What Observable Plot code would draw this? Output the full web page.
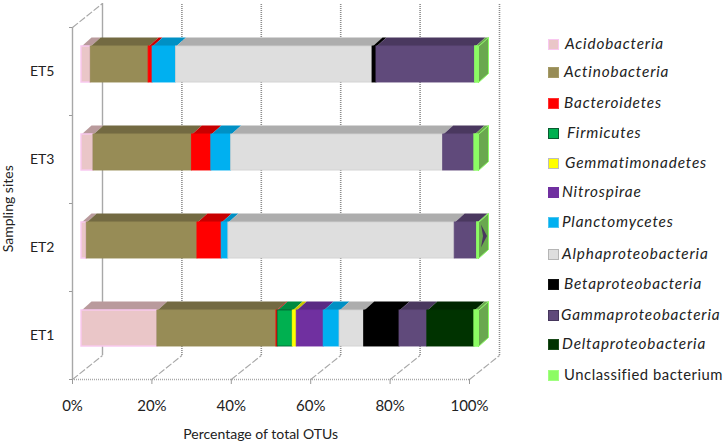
<!DOCTYPE html>
<html>
<head>
<meta charset="utf-8">
<script src="https://cdn.jsdelivr.net/npm/d3@7"></script>
<script src="https://cdn.jsdelivr.net/npm/@observablehq/plot@0.6"></script>
<style>
html,body{margin:0;padding:0;background:#fff;overflow:hidden}
#wrap{position:relative;width:723px;height:443px;font-family:Lato,"Open Sans",sans-serif}
#wrap svg{position:absolute;left:0;top:0}
#legend{position:absolute;left:0;top:0;width:723px;height:443px;pointer-events:none}
.item{position:absolute;display:flex;align-items:center;height:20px;left:548px;color:#222;white-space:nowrap}
.sw{box-sizing:border-box;width:11px;height:11px;flex:none;border-width:1.5px;border-style:solid}
.lb{position:absolute;top:-1px;line-height:20px;font-size:15.3px;letter-spacing:.85px}
.lb.plain{font-size:14.8px;letter-spacing:.55px}
</style>
</head>
<body>
<div id="wrap"></div>
<script>
const sites = ["ET1", "ET2", "ET3", "ET5"];
const phyla = ["Acidobacteria","Actinobacteria","Bacteroidetes","Firmicutes","Gemmatimonadetes","Nitrospirae","Planctomycetes","Alphaproteobacteria","Betaproteobacteria","Gammaproteobacteria","Deltaproteobacteria","Unclassified bacterium"];
// percentage per site, in the order of `sites`
const acidobacteria   = [19.1, 1.3, 3.0, 2.3];
const actinobacteria  = [30.0, 27.9, 24.8, 14.6];
const bacteroidetes   = [0.3, 6.1, 4.9, 1.0];
const firmicutes      = [3.8, 0, 0, 0];
const gemmatimonadetes= [1.0, 0, 0, 0];
const nitrospirae     = [6.8, 0, 0, 0];
const planctomycetes  = [4.0, 1.7, 5.0, 5.9];
const alphaproteo     = [6.2, 57.0, 53.4, 49.5];
const betaproteo      = [8.9, 0, 0, 1.0];
const gammaproteo     = [7.0, 5.7, 7.9, 24.9];
const deltaproteo     = [11.9, 0, 0, 0];
const unclassified    = [1.0, 0.3, 1.0, 0.8];
const seriesValues = [acidobacteria,actinobacteria,bacteroidetes,firmicutes,gemmatimonadetes,nitrospirae,planctomycetes,alphaproteo,betaproteo,gammaproteo,deltaproteo,unclassified];

const frontColors = ["#eac6c8","#978c56","#ff0000","#00b050","#ffff00","#7030a0","#00b0f0","#dedede","#000000","#604a7b","#003300","#8cfc64"];
const topColors   = ["#b99a9c","#736a42","#c80000","#008a40","#c8c800","#5a2a84","#0090c4","#adadad","#000000","#4a385f","#002600","#6aa84f"];
const edgeColors  = ["#f9c8f0","#978c56","#ff0000","#006030","#ffff00","#7030a0","#00b0f0","#cfcfcf","#000000","#604a7b","#003300","#8cfc64"];
const swatchEdges = ["#f9c8f0","#a59a66","#ff3030","#0a5a30","#bdbdbd","#7030a0","#4cc4f0","#b5b5b5","#111111","#45365c","#1a4a1a","#a0ff80"];
const xTicks = [0, 20, 40, 60, 80, 100];

// layout of the pseudo-3D box
const barHalf = 0.205, barDx = 9, barDy = -7;
const depthX = 2.52, depthY = 0.102;      // depth of a bar, in data units
const wallX = 7.56, wallY = 0.273;        // depth of the box, in data units
const wallDx = 30, wallDy = -24;

const rects = [];
sites.forEach((site, s) => {
  let cum = 0;
  phyla.forEach((phylum, p) => {
    const v = seriesValues[p][s];
    if (v > 0) rects.push({site, s, p, phylum, x1: cum, x2: cum + v, y: s + 0.5});
    cum += v;
  });
});
const topFaces = rects.flatMap((r, i) => [
  {id: i, p: r.p, x: r.x1, y: r.y + barHalf},
  {id: i, p: r.p, x: r.x2, y: r.y + barHalf},
  {id: i, p: r.p, x: r.x2 + depthX, y: r.y + barHalf + depthY},
  {id: i, p: r.p, x: r.x1 + depthX, y: r.y + barHalf + depthY},
  {id: i, p: r.p, x: r.x1, y: r.y + barHalf}
]);
const sideFaces = sites.flatMap((site, s) => {
  const y = s + 0.5;
  return [
    {id: s, x: 100, y: y - barHalf},
    {id: s, x: 100, y: y + barHalf},
    {id: s, x: 100 + depthX, y: y + barHalf + depthY},
    {id: s, x: 100 + depthX, y: y - barHalf + depthY},
    {id: s, x: 100, y: y - barHalf}
  ];
});
// the dark blotch visible on the side face of the ET2 bar
const et2 = sites.indexOf("ET2") + 0.5 + depthY / 2;
const blotch = [
  {x: 100 + depthX * 0.25, y: et2 + 0.13},
  {x: 100 + depthX * 0.85, y: et2},
  {x: 100 + depthX * 0.25, y: et2 - 0.13},
  {x: 100 + depthX * 0.45, y: et2}
];

const font = 'Lato,"Open Sans",sans-serif';

const chart = Plot.plot({
  width: 723, height: 443,
  marginLeft: 72, marginRight: 254, marginTop: 27, marginBottom: 64,
  style: {background: "transparent", fontFamily: font, fontSize: "14px", color: "#222", overflow: "visible"},
  x: {domain: [0, 100]},
  y: {domain: [0, 4]},
  marks: [
    // box: back wall, floor, left wall
    Plot.ruleX(xTicks.slice(1), {y1: 0, y2: 4, dx: wallDx, dy: wallDy, stroke: "#8c8c8c", strokeWidth: 1.6, strokeDasharray: "1 1"}),
    Plot.ruleX([0], {y1: 0, y2: 4, dx: wallDx, dy: wallDy, stroke: "#a8a8a8", strokeWidth: 1.4}),
    Plot.link(xTicks, {x1: d => d, y1: 0, x2: d => d + wallX, y2: wallY, stroke: "#a8a8a8", strokeWidth: 1.2, strokeDasharray: "7 2"}),
    Plot.link([0], {x1: d => d, y1: 4, x2: d => d + wallX, y2: 4 + wallY, stroke: "#a8a8a8", strokeWidth: 1.2, strokeDasharray: "7 2"}),
    Plot.ruleY([0], {x1: 0, x2: 100, stroke: "#a8a8a8", strokeWidth: 1.5, strokeDasharray: "1 1"}),
    Plot.ruleX([0], {y1: 0, y2: 4, stroke: "#a8a8a8", strokeWidth: 1.4}),
    // axes
    Plot.axisX({ticks: xTicks, tickFormat: d => d + "%", tickSize: 5, tickPadding: 16, stroke: "#9a9a9a", label: null, fontSize: 15, fill: "#222"}),
    Plot.axisY({ticks: [0, 1, 2, 3, 4], tickFormat: () => "", tickSize: 3, stroke: "#9a9a9a", label: null}),
    // bars: top faces, side faces, front faces
    Plot.line(topFaces, {x: "x", y: "y", z: "id", fill: d => topColors[d.p], stroke: "none", dx: barDx, dy: barDy}),
    Plot.line(sideFaces, {x: "x", y: "y", z: "id", fill: topColors[11], stroke: frontColors[11], strokeWidth: 1, dx: barDx, dy: barDy}),
    Plot.line(blotch, {x: "x", y: "y", fill: topColors[9], stroke: "none", dx: barDx, dy: barDy}),
    Plot.rect(rects, {
      x1: "x1", x2: "x2",
      y1: d => d.y - barHalf, y2: d => d.y + barHalf,
      fill: d => frontColors[d.p], stroke: d => edgeColors[d.p], strokeWidth: d => d.p === 0 || d.p === 11 ? 1.4 : 0.8,
      dx: barDx, dy: barDy
    }),
    // site labels and axis titles
    Plot.text(sites, {x: 0, y: (d, i) => i + 0.5, text: d => d, textAnchor: "end", dx: -18, fontSize: 14, fill: "#222"}),
    Plot.text(["Percentage of total OTUs"], {x: 47.4, y: 0, text: d => d, dy: 55, fontSize: 14, fill: "#222"}),
    Plot.text(["Sampling sites"], {x: 0, y: 1.94, text: d => d, rotate: -90, dx: -64, fontSize: 14, fill: "#222"})
  ]
});

const wrap = document.getElementById("wrap");
wrap.appendChild(chart);

const legend = d3.select(wrap).append("div").attr("id", "legend");
const legendY = [44, 72, 103, 133, 163, 192, 222, 254, 284, 315, 344, 375];
const labelX = [17, 16, 16, 19, 17, 14, 14, 14, 16, 13, 14, 16];
phyla.forEach((name, i) => {
  const item = legend.append("div").attr("class", "item").style("top", (legendY[i] - 10) + "px");
  item.append("div").attr("class", "sw")
    .style("background", frontColors[i]).style("border-color", swatchEdges[i]);
  item.append("div").attr("class", i < 11 ? "lb" : "lb plain")
    .style("left", labelX[i] + "px")
    .style("font-style", i < 11 ? "italic" : "normal")
    .text(name);
});
</script>
</body>
</html>
